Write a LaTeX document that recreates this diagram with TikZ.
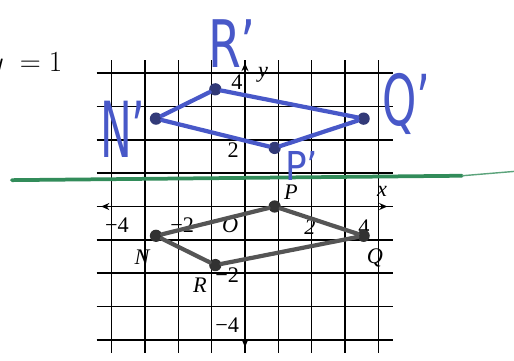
\documentclass[tikz,border=0pt]{standalone}
\usepackage{fontspec}
\setmainfont{Liberation Serif}
\newfontfamily\handfont{DejaVu Sans}
\usetikzlibrary{arrows.meta,positioning}
\definecolor{penblue}{RGB}{72, 88, 200}
\definecolor{dotblue}{RGB}{50, 58, 120}
\definecolor{shapegray}{RGB}{85, 85, 85}
\definecolor{dotgray}{RGB}{50, 50, 50}
\definecolor{markergreen}{RGB}{50, 140, 90}

% narrow hand lettering
\newcommand{\handtext}[2]{\scalebox{#1}[1]{#2}}

\begin{document}
\begin{tikzpicture}[x=0.89cm, y=0.879cm, >={Stealth[length=7pt, width=6pt]},
  gridline/.style={line width=1.3pt, black},
  axis/.style={line width=1.5pt, black, <->},
  tick/.style={font=\fontsize{19}{20}\selectfont, inner sep=0pt},
  vlabel/.style={font=\fontsize{19}{20}\selectfont\itshape, inner sep=0pt},
  vertex/.style={circle, inner sep=0pt, minimum size=10.5pt, fill=#1},
  edge/.style={line width=3.6pt, line cap=round},
  hand/.style={font=\handfont\fontsize{#1}{#1}\selectfont, penblue,
               inner sep=0pt, anchor=base west},
  ]

% Frame of the picture
\useasboundingbox (-8.26, -5.24) rectangle (9.07, 7.05);
\clip (-8.26, -5.24) rectangle (9.07, 7.05);

% ======================================================================
% Grid and axes
% ======================================================================
\draw[gridline] (-5, -5) grid (5, 5);

\coordinate (xmin) at (-4.85, 0);
\coordinate (xmax) at (4.8, 0);
\coordinate (ymin) at (0, -4.8);
\coordinate (ymax) at (0, 4.9);
\draw[axis] (xmin) -- (xmax);
\draw[axis] (ymin) -- (ymax);

% Axis names and ticks
\node[vlabel] (xname) at (4.62, 0.5) {x};
\node[vlabel] (yname) at (0.61, 4.49) {y};
\node[tick] (xm4) at (-4.32, -0.63) {−4};
\node[tick] (xm2) at (-2.12, -0.63) {−2};
\node[vlabel] (origin) at (-0.5, -0.63) {O};
\node[tick] (xp2) at (2.19, -0.7) {\itshape 2};
\node[tick] (xp4) at (4.01, -0.72) {4};
\node[tick] (yp4) at (-0.27, 4.25) {4};
\node[tick] (yp2) at (-0.4, 1.93) {2};
\node[tick] (ym2) at (-0.6, -2.34) {−2};
\node[tick] (ym4) at (-0.6, -4.04) {−4};

% Line of reflection (y = 1)
\node[font=\fontsize{24}{26}\selectfont, anchor=east, inner sep=0pt]
  (mirror) at (-6.15, 4.83) {$y\mkern5mu = 1$};
\coordinate (gleft) at (-7.86, 0.9);
\coordinate (gmid) at (7.32, 1.05);
\coordinate (gright) at (9.1, 1.2);
\draw[markergreen, line width=3.2pt, line cap=round] (gleft) -- (gmid);
\draw[markergreen!80, line width=1.2pt] (gmid) -- (gright);

% ======================================================================
% Original figure NPQR
% ======================================================================
\node[vertex=dotgray] (N) at (-3, -1) {};
\node[vertex=dotgray] (P) at (1, 0) {};
\node[vertex=dotgray] (Q) at (4, -1) {};
\node[vertex=dotgray] (R) at (-1, -2) {};
\draw[edge, shapegray] (N) -- (P) -- (Q) -- (R) -- (N);

\node[vlabel] (Nlab) at (-3.47, -1.72) {N};
\node[vlabel] (Plab) at (1.55, 0.48) {P};
\node[vlabel] (Qlab) at (4.38, -1.76) {Q};
\node[vlabel] (Rlab) at (-1.52, -2.68) {R};

% ======================================================================
% Image N'P'Q'R' (hand drawn)
% ======================================================================
\node[vertex=dotblue] (Np) at (-3, 3) {};
\node[vertex=dotblue] (Rp) at (-1, 4) {};
\node[vertex=dotblue] (Qp) at (4, 3) {};
\node[vertex=dotblue] (Pp) at (1, 2) {};
\draw[edge, penblue] (Np) -- (Rp) -- (Qp) -- (Pp) -- (Np);

\node[hand=56] (Rplab) at (-1.25, 4.73) {\handtext{0.72}{R’}};
\node[hand=66] (Nplab) at (-4.89, 1.69) {\handtext{0.55}{N’}};
\node[hand=60] (Qplab) at (4.62, 2.78) {\handtext{0.62}{Q’}};
\node[hand=34] (Pplab) at (1.35, 0.9) {\handtext{0.9}{P’}};

\end{tikzpicture}
\end{document}
